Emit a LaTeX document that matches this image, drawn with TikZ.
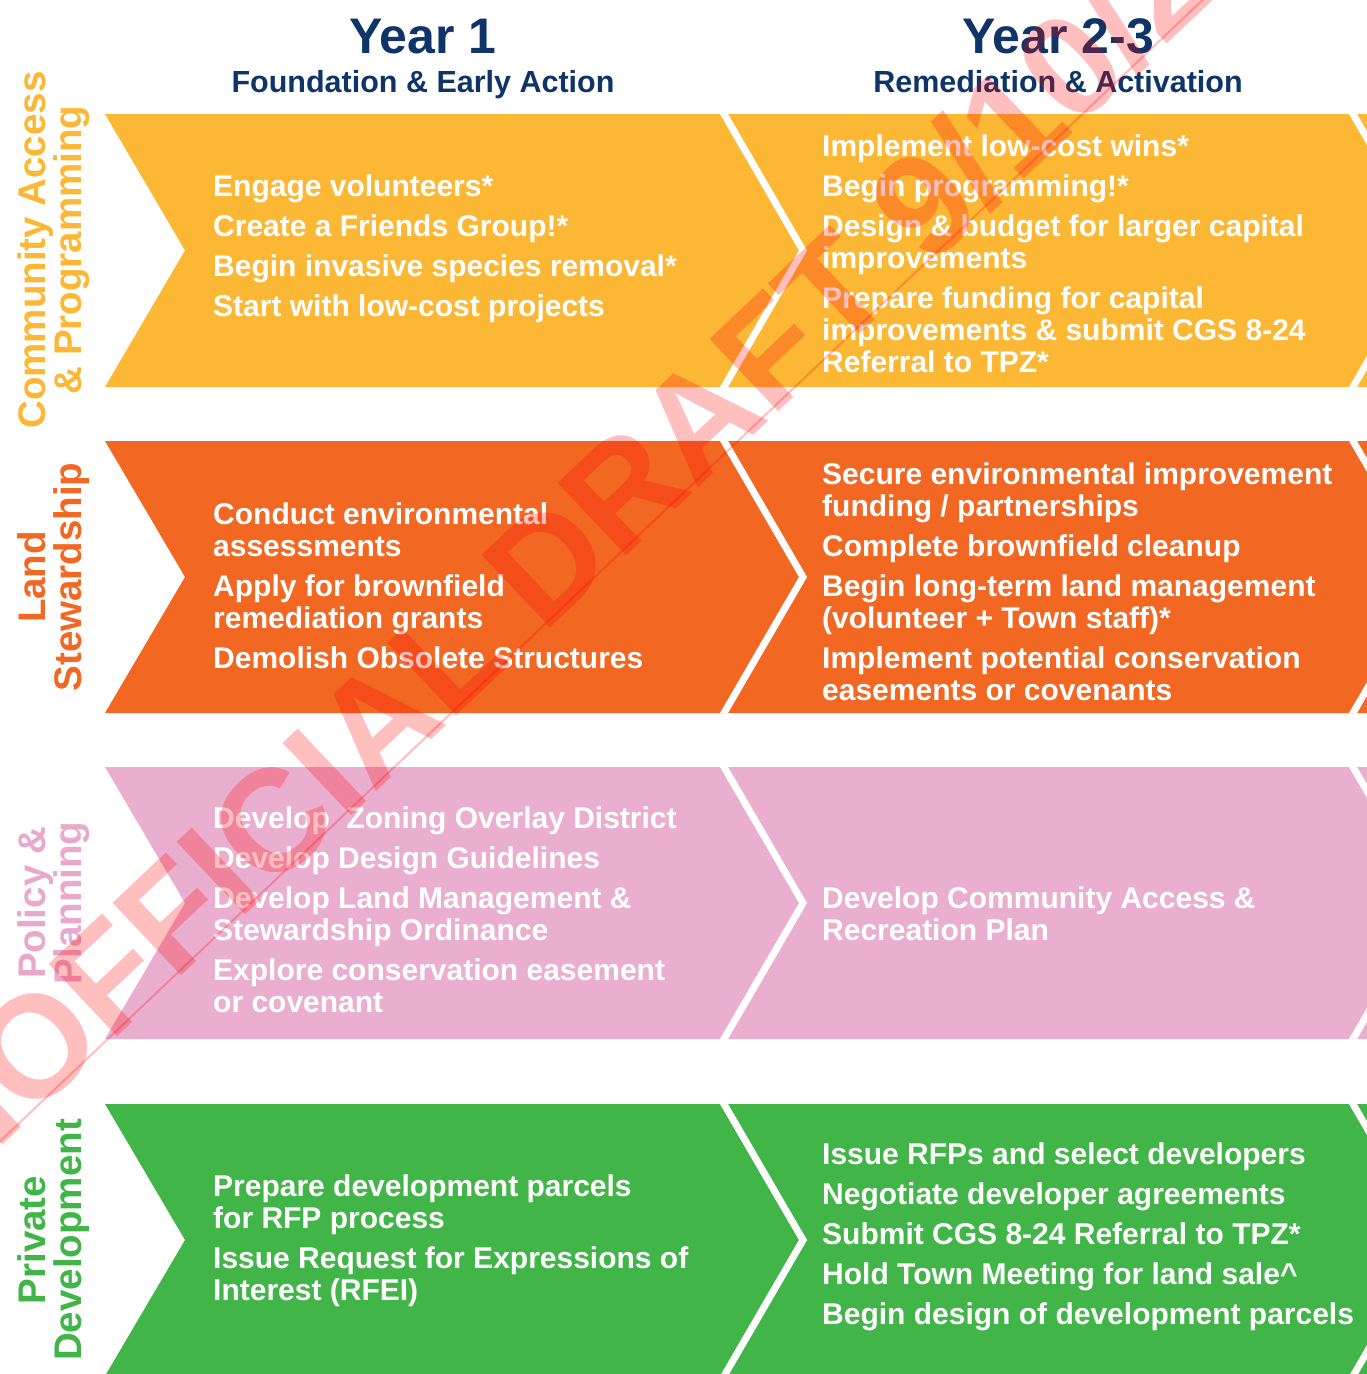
\documentclass[tikz,border=0pt]{standalone}
\usepackage{fontspec}
\setmainfont{Liberation Sans}
\definecolor{cyel}{HTML}{FCB835}
\definecolor{cora}{HTML}{F26722}
\definecolor{cpink}{HTML}{EAAFCF}
\definecolor{cpinklab}{HTML}{E9A9CC}
\definecolor{cgreen}{HTML}{42B549}
\definecolor{navy}{HTML}{0F3568}
\newcommand\celltab[1]{\begin{tabular}[t]{@{}l@{}}#1\end{tabular}}
\begin{document}
\begin{tikzpicture}[x=1pt,y=-1pt,
  bandtext/.style={text=white,font=\bfseries\fontsize{30}{32}\selectfont,inner sep=0pt,anchor=base west},
  headbig/.style={text=navy,font=\bfseries\fontsize{50}{52}\selectfont,inner sep=0pt,anchor=base},
  headsub/.style={text=navy,font=\bfseries\fontsize{30.5}{32}\selectfont,inner sep=0pt,anchor=base},
  rowlab/.style={font=\bfseries\fontsize{38.5}{40}\selectfont,rotate=90,anchor=base,inner sep=0pt},
  sepline/.style={draw=white,line width=7pt,line join=miter},
  wmtext/.style={text=red,text opacity=0.25,font=\bfseries\fontsize{145}{150}\selectfont,inner sep=0pt,anchor=base west,rotate=43.4},
  wmline/.style={draw=red,draw opacity=0.25,line width=2pt}]
\useasboundingbox (0,0) rectangle (1367,1374);
\clip (0,0) rectangle (1367,1374);
\fill[white] (0,0) rectangle (1367,1374);

% bands
\foreach \T/\B/\c in {114/387/cyel,441/713/cora,767/1039/cpink,1104/1376/cgreen}{
  \pgfmathsetmacro\M{(\T+\B)/2}
  \begin{scope}
    \clip (105,\T) -- (185,\M) -- (105,\B) -- (1400,\B) -- (1400,\T) -- cycle;
    \fill[\c] (100,\T-5) rectangle (1400,\B+5);
    \draw[sepline] (724-5.8,\T-10) -- (803,\M) -- (724-5.8,\B+10);
    \draw[sepline] (1353-5.8,\T-10) -- (1432,\M) -- (1353-5.8,\B+10);
  \end{scope}
}

% headings
\node[headbig] (h1) at (423,53) {Year 1};
\node[headsub] (s1) at (423,92) {Foundation \& Early Action};
\node[headbig] (h2) at (1058,53) {Year 2-3};
\node[headsub] (s2) at (1058,92) {Remediation \& Activation};

% row labels
\node[rowlab,text=cyel] (la1) at (45,250) {Community Access};
\node[rowlab,text=cyel] (la2) at (81,250) {\& Programming};
\node[rowlab,text=cora] (lb1) at (45,577) {Land};
\node[rowlab,text=cora] (lb2) at (81,577) {Stewardship};
\node[rowlab,text=cpinklab] (lc1) at (45,903) {Policy \&};
\node[rowlab,text=cpinklab] (lc2) at (81,903) {Planning};
\node[rowlab,text=cgreen] (ld1) at (45,1240) {Private};
\node[rowlab,text=cgreen] (ld2) at (81,1240) {Development};

% cell texts
\node[bandtext] (n11) at (213,196) {\celltab{Engage volunteers*\\[8pt]Create a Friends Group!*\\[8pt]Begin invasive species removal*\\[8pt]Start with low-cost projects}};
\node[bandtext] (n12) at (822,156) {\celltab{Implement low-cost wins*\\[8pt]Begin programming!*\\[8pt]Design \& budget for larger capital\\improvements\\[8pt]Prepare funding for capital\\improvements \& submit CGS 8-24\\Referral to TPZ*}};
\node[bandtext] (n21) at (213,524) {\celltab{Conduct environmental\\assessments\\[8pt]Apply for brownfield\\remediation grants\\[8pt]Demolish Obsolete Structures}};
\node[bandtext] (n22) at (822,484) {\celltab{Secure environmental improvement\\funding / partnerships\\[8pt]Complete brownfield cleanup\\[8pt]Begin long-term land management\\(volunteer + Town staff)*\\[8pt]Implement potential conservation\\easements or covenants}};
\node[bandtext] (n31) at (213,828) {\celltab{Develop\ \ Zoning Overlay District\\[8pt]Develop Design Guidelines\\[8pt]Develop Land Management \&\\Stewardship Ordinance\\[8pt]Explore conservation easement\\or covenant}};
\node[bandtext] (n32) at (822,908) {\celltab{Develop Community Access \&\\Recreation Plan}};
\node[bandtext] (n41) at (213,1196) {\celltab{Prepare development parcels\\for RFP process\\[8pt]Issue Request for Expressions of\\Interest (RFEI)}};
\node[bandtext] (n42) at (822,1164) {\celltab{Issue RFPs and select developers\\[8pt]Negotiate developer agreements\\[8pt]Submit CGS 8-24 Referral to TPZ*\\[8pt]Hold Town Meeting for land sale\textasciicircum\\[8pt]Begin design of development parcels}};

% watermark
\node[wmtext] (wmk) at (-124,1265) {UNOFFICIAL DRAFT 9/10/25};
\coordinate (wa) at (-203,1334);
\coordinate (wb) at (1250,-45);
\draw[wmline] (wa) -- (wb);
\end{tikzpicture}
\end{document}
